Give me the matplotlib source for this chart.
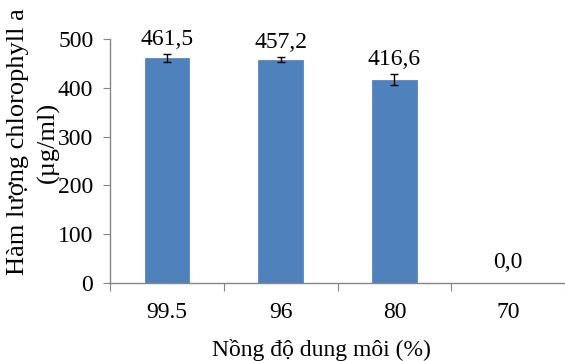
import matplotlib
matplotlib.use("Agg")
import matplotlib.pyplot as plt
import numpy as np

categories = ["99.5", "96", "80", "70"]
values = [461.5, 457.2, 416.6, 0.0]
errors = [8, 5, 11, 0]
labels = ["461,5", "457,2", "416,6", "0,0"]

plt.rcParams['font.family'] = ['Liberation Serif', 'DejaVu Serif']
FS = 17

fig = plt.figure(figsize=(5.65, 3.61), dpi=100)
ax = fig.add_axes([110/565, 1-283/361, 455/565, (283-39)/361])

x = np.arange(len(categories))
ax.bar(x, values, width=0.39, color="#4F81BD", edgecolor="#4A7AB5", linewidth=0.5, zorder=2)
ax.errorbar(x[:3], values[:3], yerr=errors[:3], fmt='none', ecolor='black', elinewidth=1, capsize=3, capthick=1, zorder=3)

for xi, v, e, l in zip(x, values, errors, labels):
    ax.annotate(l, (xi, v + e), xytext=(0, 3 if v > 0 else 7), textcoords='offset points',
                ha='center', va='bottom', fontsize=FS)

ax.set_xlim(-0.5, 3.5)
ax.set_ylim(0, 500)
ax.set_yticks(np.arange(0, 501, 100))
ax.tick_params(axis='y', labelsize=FS, length=5, color='#868686', direction='out', pad=7)
ax.set_xticks(np.arange(-0.5, 4, 1))
ax.set_xticklabels([])
ax.set_xticks(x, minor=True)
ax.set_xticklabels(categories, minor=True, fontsize=FS)
ax.tick_params(axis='x', which='major', length=6, color='#868686', direction='out')
ax.tick_params(axis='x', which='minor', length=0, pad=14)

for s in ['top', 'right']:
    ax.spines[s].set_visible(False)
for s in ['left', 'bottom']:
    ax.spines[s].set_color('#868686')
    ax.spines[s].set_linewidth(1)

fig.text(321/565, 1-350/361, "Nồng độ dung môi (%)", ha='center', va='center', fontsize=FS)
fig.text(18/565, 1-142/361, "Hàm lượng chlorophyll a", ha='center', va='center', rotation=90, fontsize=19)
fig.text(48/565, 1-142/361, "(µg/ml)", ha='center', va='center', rotation=90, fontsize=19)

fig.savefig("out.png", dpi=100)
